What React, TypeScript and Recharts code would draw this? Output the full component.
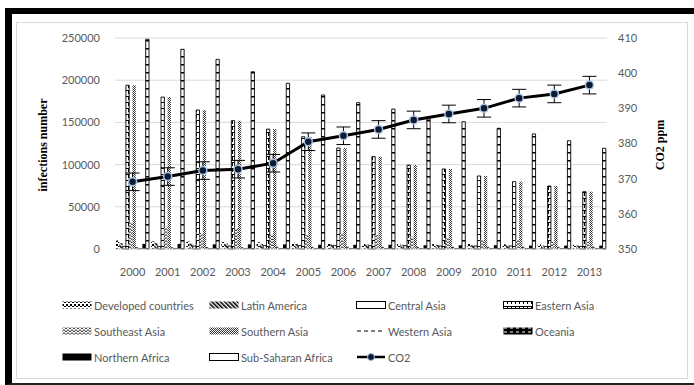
import React from "react";
import {
  ComposedChart,
  Bar,
  Line,
  ErrorBar,
  XAxis,
  YAxis,
  CartesianGrid,
} from "recharts";

const years = ["2000", "2001", "2002", "2003", "2004", "2005", "2006", "2007", "2008", "2009", "2010", "2011", "2012", "2013"];

// new infections per region
const developed = [10000, 9000, 9000, 8500, 8000, 7500, 7000, 6500, 6500, 6000, 6000, 5500, 5500, 5000];
const latinAmerica = [7000, 7000, 6500, 6500, 6000, 6000, 5500, 5500, 5000, 5000, 4500, 4500, 4000, 4000];
const centralAsia = [3000, 3000, 3500, 3500, 4000, 4000, 4000, 4000, 4000, 3500, 3500, 3500, 3000, 3000];
const easternAsia = [194000, 180000, 164700, 152000, 142000, 133000, 119700, 109400, 99500, 94800, 86500, 79800, 74600, 67900];
const southeastAsia = [31000, 26400, 19000, 24900, 16600, 16600, 19000, 16600, 14600, 13000, 10700, 10700, 8700, 8700];
const southernAsia = [194000, 180000, 164700, 152000, 142000, 133000, 119700, 109400, 99500, 94800, 86500, 79800, 74600, 67900];
const westernAsia = [1500, 1500, 1500, 1500, 2000, 2000, 2000, 2000, 2000, 2000, 2000, 2000, 2000, 2000];
const oceania = [1000, 1000, 1000, 1000, 1000, 1000, 1000, 1000, 1000, 1000, 1000, 1000, 1000, 1000];
const northernAfrica = [6000, 6000, 5500, 5500, 5500, 5000, 5000, 5000, 4500, 4500, 4500, 4000, 4000, 4000];
const subSaharan = [248500, 236600, 224700, 210000, 196300, 182500, 173400, 165800, 154000, 150800, 143000, 136300, 128300, 119300];

// CO2 concentration (ppm) with error
const co2 = [369.1, 370.6, 372.3, 372.7, 374.4, 380.5, 382.2, 384.0, 386.7, 388.4, 390.0, 392.9, 394.1, 396.6];
const co2Err = [2.5, 2.5, 2.5, 2.5, 2.5, 2.5, 2.5, 2.5, 2.5, 2.5, 2.5, 2.5, 2.5, 2.5];

const leftTicks = [0, 50000, 100000, 150000, 200000, 250000];
const rightTicks = [350, 360, 370, 380, 390, 400, 410];

const series = [
  { key: "developed", name: "Developed countries", values: developed, fill: "url(#pDev)", stroke: "none" },
  { key: "latin", name: "Latin America", values: latinAmerica, fill: "url(#pLat)", stroke: "none" },
  { key: "central", name: "Central Asia", values: centralAsia, fill: "#fff", stroke: "#000" },
  { key: "eastern", name: "Eastern Asia", values: easternAsia, fill: "url(#pEast)", stroke: "#000" },
  { key: "southeast", name: "Southeast Asia", values: southeastAsia, fill: "url(#pSE)", stroke: "none" },
  { key: "southern", name: "Southern Asia", values: southernAsia, fill: "url(#pSouth)", stroke: "none" },
  { key: "western", name: "Western Asia", values: westernAsia, fill: "none", stroke: "#000", dash: "2 2" },
  { key: "oceania", name: "Oceania", values: oceania, fill: "url(#pOce)", stroke: "none" },
  { key: "nafrica", name: "Northern Africa", values: northernAfrica, fill: "#000", stroke: "none" },
  { key: "ssa", name: "Sub-Saharan Africa", values: subSaharan, fill: "url(#pSSA)", stroke: "#000" },
];

const data = years.map((year, i) => {
  const row: Record<string, any> = { year, co2: co2[i], co2Err: co2Err[i] };
  series.forEach((s) => {
    row[s.key] = s.values[i];
  });
  return row;
});

const FONT = "Lato, 'Open Sans', sans-serif";
const TICK = { fill: "#595959", fontSize: 11, fontFamily: FONT };
const GRID = "#d9d9d9";

const Patterns = () => (
  <defs>
    <pattern id="pDev" width="4" height="4" patternUnits="userSpaceOnUse">
      <rect width="4" height="4" fill="#fff" />
      <rect width="2" height="2" fill="#000" />
      <rect x="2" y="2" width="2" height="1" fill="#000" />
    </pattern>
    <pattern id="pLat" width="3" height="3" patternUnits="userSpaceOnUse" patternTransform="rotate(-45)">
      <rect width="3" height="3" fill="#fff" />
      <rect width="1.6" height="3" fill="#000" />
    </pattern>
    <pattern id="pEast" width="4" height="6" patternUnits="userSpaceOnUse">
      <rect width="4" height="6" fill="#fff" />
      <rect width="4" height="1" fill="#000" />
      <rect width="1" height="4" fill="#000" />
    </pattern>
    <pattern id="pSE" width="4" height="3" patternUnits="userSpaceOnUse">
      <rect width="4" height="3" fill="#fff" />
      <path d="M0 3 L2 0.5 L4 3" stroke="#000" strokeWidth="0.8" fill="none" />
    </pattern>
    <pattern id="pSouth" width="2" height="2" patternUnits="userSpaceOnUse">
      <rect width="2" height="2" fill="#fff" />
      <rect width="1" height="1" fill="#333" />
      <rect x="1" y="1" width="1" height="1" fill="#333" />
    </pattern>
    <pattern id="pOce" width="6" height="4" patternUnits="userSpaceOnUse">
      <rect width="6" height="4" fill="#000" />
      <rect x="1" y="1.5" width="3" height="1" fill="#fff" />
    </pattern>
    <pattern id="pSSA" width="4" height="8" patternUnits="userSpaceOnUse">
      <rect width="4" height="8" fill="#fff" />
      <rect width="4" height="1.5" fill="#000" />
    </pattern>
  </defs>
);

const Swatch = ({ s }: { s: any }) => {
  if (s.key === "western") {
    return (
      <svg width={30} height={10}>
        <line x1={1} y1={5} x2={29} y2={5} stroke="#000" strokeWidth={1} strokeDasharray="4 3" />
      </svg>
    );
  }
  return (
    <svg width={30} height={10}>
      <rect x={0.5} y={1.5} width={29} height={7} fill={s.fill} stroke={s.stroke === "none" ? "none" : "#000"} />
    </svg>
  );
};

const legendItems = [...series.map((s) => ({ ...s, kind: "bar" })), { key: "co2", name: "CO2", kind: "line" }];

function ChartLegend() {
  return (
    <div style={{ position: "absolute", left: 62, top: 296, width: 600 }}>
      {legendItems.map((s: any, i) => {
        const col = i % 4;
        const row = Math.floor(i / 4);
        return (
          <div
            key={s.key}
            style={{
              position: "absolute",
              left: col * 147,
              top: row * 26,
              height: 18,
              display: "flex",
              alignItems: "center",
              fontFamily: FONT,
              fontSize: 11,
              color: "#595959",
              whiteSpace: "nowrap",
            }}
          >
            {s.kind === "line" ? (
              <svg width={30} height={10}>
                <line x1={1} y1={5} x2={29} y2={5} stroke="#000" strokeWidth={2.5} />
                <circle cx={15} cy={5} r={3.5} fill="#0b1a33" stroke="#a9c1e0" strokeWidth={1} />
              </svg>
            ) : (
              <Swatch s={s} />
            )}
            <span style={{ marginLeft: 2 }}>{s.name}</span>
          </div>
        );
      })}
    </div>
  );
}

export default function App() {
  return (
    <div style={{ position: "absolute", left: 0, top: 0, width: 694, height: 385, background: "#fff", overflow: "hidden" }}>
      <div
        style={{
          position: "absolute",
          left: 5,
          top: 8,
          width: 689,
          height: 377,
          boxSizing: "border-box",
          borderTop: "6px solid #000",
          borderLeft: "7px solid #000",
          borderBottom: "2px solid #222",
        }}
      />
      <div
        style={{
          position: "absolute",
          left: 16,
          top: 22,
          width: 672,
          height: 357,
          boxSizing: "border-box",
          border: "1px solid #d9d9d9",
        }}
      />
      <div style={{ position: "absolute", left: 0, top: 0 }}>
        <ComposedChart
          width={694}
          height={290}
          data={data}
          margin={{ top: 38, right: 0, bottom: 0, left: 0 }}
          barGap={0}
          barSize={3.3}
        >
          <Patterns />
          <CartesianGrid vertical={false} stroke={GRID} yAxisId="left" />
          <XAxis
            dataKey="year"
            height={41}
            tick={TICK}
            tickLine={false}
            tickMargin={13}
            axisLine={{ stroke: GRID }}
          />
          <YAxis
            yAxisId="left"
            width={115}
            domain={[0, 250000]}
            ticks={leftTicks}
            tick={TICK}
            tickLine={false}
            axisLine={false}
            tickMargin={9}
            interval={0}
          />
          <YAxis
            yAxisId="right"
            orientation="right"
            width={87}
            domain={[350, 410]}
            ticks={rightTicks}
            tick={TICK}
            tickLine={false}
            axisLine={false}
            tickMargin={5}
            interval={0}
          />
          {series.map((s) => (
            <Bar
              key={s.key}
              yAxisId="left"
              dataKey={s.key}
              name={s.name}
              fill={s.fill}
              stroke={s.stroke}
              strokeWidth={s.stroke === "none" ? 0 : 0.9}
              strokeDasharray={s.dash}
              isAnimationActive={false}
            />
          ))}
          <Line
            yAxisId="right"
            dataKey="co2"
            name="CO2"
            stroke="#000"
            strokeWidth={3}
            dot={{ r: 4, fill: "#0b1a33", stroke: "#a9c1e0", strokeWidth: 1.5 }}
            isAnimationActive={false}
          >
            <ErrorBar dataKey="co2Err" direction="y" width={7} stroke="#000" strokeWidth={1} />
          </Line>
        </ComposedChart>
      </div>
      <div
        style={{
          position: "absolute",
          left: 43,
          top: 145,
          transform: "translate(-50%, -50%) rotate(-90deg)",
          fontFamily: "'Liberation Serif', serif",
          fontWeight: "bold",
          fontSize: 12,
          whiteSpace: "nowrap",
          color: "#000",
        }}
      >
        infections number
      </div>
      <div
        style={{
          position: "absolute",
          left: 660,
          top: 145,
          transform: "translate(-50%, -50%) rotate(-90deg)",
          fontFamily: "'Liberation Serif', serif",
          fontWeight: "bold",
          fontSize: 12,
          whiteSpace: "nowrap",
          color: "#000",
        }}
      >
        CO2 ppm
      </div>
      <ChartLegend />
    </div>
  );
}
